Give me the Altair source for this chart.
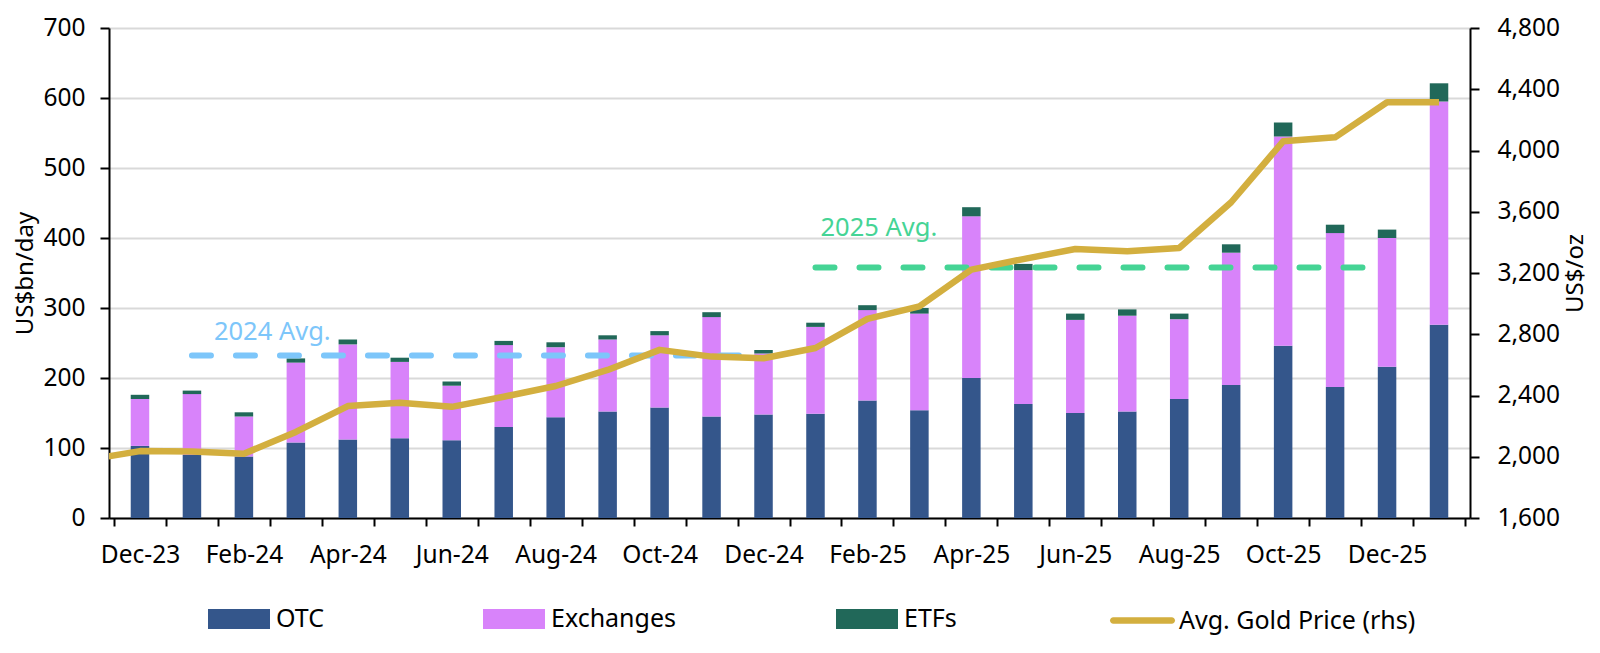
import json
import altair as alt
import pandas as pd

months = ["Dec-23", "Jan-24", "Feb-24", "Mar-24", "Apr-24", "May-24", "Jun-24",
          "Jul-24", "Aug-24", "Sep-24", "Oct-24", "Nov-24", "Dec-24", "Jan-25",
          "Feb-25", "Mar-25", "Apr-25", "May-25", "Jun-25", "Jul-25", "Aug-25",
          "Sep-25", "Oct-25", "Nov-25", "Dec-25", "Jan-26"]
otc = [103, 90, 88, 108, 112, 114, 111, 130, 144, 152, 158, 145, 148,
       149, 168, 154, 200, 163, 150, 152, 170, 190, 246, 187, 216, 276]
exchanges = [67, 87, 57, 114, 136, 109, 78, 117, 100, 103, 103, 142, 87,
             124, 129, 138, 231, 191, 133, 137, 114, 189, 299, 220, 184, 319]
etfs = [6, 5, 6, 6, 7, 6, 6, 6, 7, 6, 6, 7, 5,
        6, 7, 8, 13, 9, 9, 9, 8, 12, 20, 12, 12, 26]

# gold price series starts one month earlier, the first segment is clipped
gold_months = ["Nov-23"] + months
gold_price = [1980, 2037, 2035, 2020, 2162, 2331, 2352, 2326, 2392, 2462, 2567,
              2698, 2654, 2643, 2710, 2900, 2982, 3222, 3291, 3357, 3342, 3363,
              3662, 4060, 4086, 4315, 4315]

avg_2024 = 232
avg_2025 = 358

FONT = "Noto Sans"
SERIES = ["OTC", "Exchanges", "ETFs"]
COLORS = ["#34568B", "#D883FA", "#216859"]
GOLD = "#D3AF3F"

rows = []
for i, m in enumerate(months):
    for k, (name, vals) in enumerate(zip(SERIES, [otc, exchanges, etfs])):
        rows.append({"idx": i, "month": m, "series": name, "ord": k, "value": vals[i]})
bars_df = pd.DataFrame(rows)

gold_df = pd.DataFrame({"idx": list(range(-1, len(months))),
                        "month": gold_months,
                        "price": gold_price,
                        "name": "Avg. Gold Price (rhs)"})

x_scale = alt.Scale(domain=[-0.5, len(months) - 0.5], nice=False, zero=False)
left_scale = alt.Scale(domain=[0, 700], nice=False)

tick_values = [v / 2 for v in range(-1, 2 * len(months))]
label_expr = f"datum.value % 2 === 0 ? {json.dumps(months)}[datum.value] : ''"

x_axis = alt.Axis(values=tick_values, labelExpr=label_expr, title=None, grid=False,
                  tickOpacity={"condition": {"test": "datum.value % 1 === 0", "value": 0},
                               "value": 1},
                  labelOverlap=False, tickSize=8, tickWidth=2, domainWidth=2,
                  domainColor="black", tickColor="black", labelPadding=17,
                  labelFontSize=24.5, labelFont=FONT, labelColor="black")

axis_style = dict(tickSize=9, tickWidth=2, domainWidth=2, domainColor="black",
                  tickColor="black", labelFontSize=24.5,
                  labelFont=FONT, labelColor="black", titleFontSize=24,
                  titleFont=FONT, titleFontWeight="normal", titleColor="black",
                  titleAngle=270, titleAlign="center", titleBaseline="middle",
                  titleY=245)

left_axis = alt.Axis(values=list(range(0, 701, 100)), title="US$bn/day",
                     grid=True, gridColor="#D9D9D9", gridWidth=2,
                     titleX=-84, labelPadding=15, **axis_style)

bars = alt.Chart(bars_df).mark_bar(size=18.5).encode(
    x=alt.X("idx:Q", scale=x_scale, axis=x_axis),
    y=alt.Y("value:Q", stack="zero", scale=left_scale, axis=left_axis),
    color=alt.Color("series:N", scale=alt.Scale(domain=SERIES, range=COLORS),
                    legend=alt.Legend(orient="none", legendX=99, legendY=560,
                                      direction="horizontal", columns=3, title=None,
                                      symbolType="M-1,-0.32L1,-0.32L1,0.32L-1,0.32Z",
                                      symbolSize=3844, symbolStrokeWidth=0,
                                      symbolOpacity=1, labelFontSize=25,
                                      labelFont=FONT, labelColor="black",
                                      labelOffset=6, columnPadding=159)),
    order=alt.Order("ord:Q", sort="ascending"),
)


def avg_layers(start, end, value, label, color, dx, dy):
    df = pd.DataFrame({"idx": [start, end], "value": [value, value], "label": [label, label]})
    base = alt.Chart(df).encode(
        x=alt.X("idx:Q", scale=x_scale, axis=x_axis),
        y=alt.Y("value:Q", scale=left_scale, axis=left_axis),
    )
    line = base.mark_line(strokeDash=[19, 25], strokeCap="round", strokeWidth=6,
                          color=color)
    text = base.transform_filter(alt.datum.idx == start).mark_text(
        align="left", baseline="alphabetic", dx=dx, dy=dy, fontSize=25.5,
        font=FONT, color=color).encode(text="label:N")
    return line + text


avg24 = avg_layers(1, 12, avg_2024, "2024 Avg.", "#7DC6FA", 22, -16)
avg25 = avg_layers(13, 24, avg_2025, "2025 Avg.", "#45D495", 5, -31)

left = alt.layer(bars, avg24, avg25)

gold = alt.Chart(gold_df).mark_line(strokeWidth=6.5, clip=True, strokeJoin="round").encode(
    x=alt.X("idx:Q", scale=x_scale, axis=x_axis),
    y=alt.Y("price:Q", scale=alt.Scale(domain=[1600, 4800], nice=False, zero=False),
            axis=alt.Axis(orient="right", values=list(range(1600, 4801, 400)),
                          format=",d", title="US$/oz", grid=False, titleX=105,
                          labelPadding=18, **axis_style)),
    color=alt.Color("name:N", scale=alt.Scale(range=[GOLD]),
                    legend=alt.Legend(orient="none", legendX=1001, legendY=560,
                                      title=None, labelLimit=400,
                                      symbolType="M-0.9,-0.1L0.9,-0.1A0.1,0.1,0,0,1,0.9,0.1L-0.9,0.1A0.1,0.1,0,0,1,-0.9,-0.1Z",
                                      symbolSize=4225, symbolStrokeWidth=0,
                                      symbolFillColor=GOLD, symbolOpacity=1,
                                      labelFontSize=25, labelFont=FONT,
                                      labelColor="black", labelOffset=4)),
)

chart = alt.layer(left, gold).resolve_scale(
    y="independent", color="independent"
).properties(
    width=1361, height=490,
    padding={"left": 101, "top": 20, "right": 122, "bottom": 127},
    autosize=alt.AutoSizeParams(type="none"),
).configure_view(stroke=None)

chart.save("out.html", embed_options={"renderer": "svg", "actions": False})
